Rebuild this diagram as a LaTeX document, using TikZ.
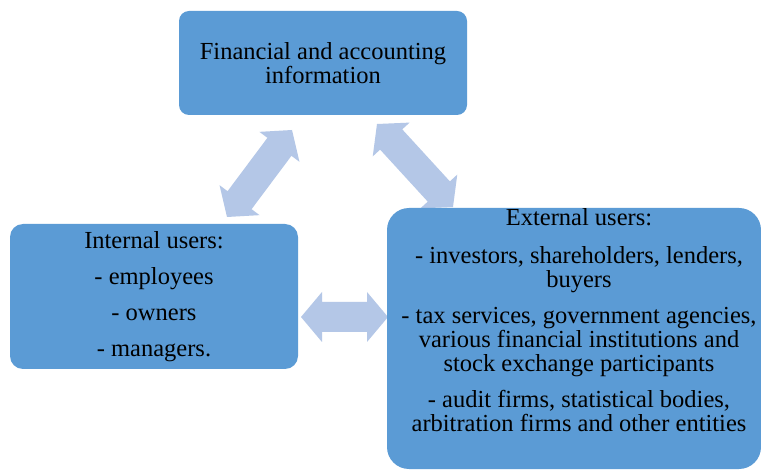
\documentclass[tikz,border=0pt]{standalone}
\usepackage{fontspec}
\setmainfont{LiberationSerif}[Extension=.ttf, UprightFont=*-Regular, BoldFont=*-Bold]
\usetikzlibrary{calc}
\definecolor{boxblue}{HTML}{5B9BD5}
\definecolor{arrowblue}{HTML}{B4C7E7}
\tikzset{
  userbox/.style={fill=boxblue, draw=none, inner sep=0pt},
  boxtext/.style={align=center, inner sep=0pt, text=black, font={\fontsize{24.5}{24}\selectfont}},
  biarrow/.style={fill=arrowblue, draw=none}
}
% double-headed block arrow between two named coordinates
\newcommand{\userarrow}[2]{%
  \path ($(#1)!21pt!(#2)$) coordinate (ua1) ($(#2)!21pt!(#1)$) coordinate (ub1);
  \fill[biarrow] (#1) -- ($(ua1)!25pt!90:(#2)$) -- ($(ua1)!15pt!90:(#2)$)
    -- ($(ub1)!15pt!-90:(#1)$) -- ($(ub1)!25pt!-90:(#1)$) -- (#2)
    -- ($(ub1)!25pt!90:(#1)$) -- ($(ub1)!15pt!90:(#1)$)
    -- ($(ua1)!15pt!-90:(#2)$) -- ($(ua1)!25pt!-90:(#2)$) -- cycle;}
\begin{document}
\begin{tikzpicture}[x=1pt, y=-1pt]
\useasboundingbox (0,0) rectangle (761,470);
\fill[white] (0,0) rectangle (761,470);
% arrow end points
\coordinate (l1) at (227,217);
\coordinate (l2) at (292,130);
\coordinate (r1) at (377,124);
\coordinate (r2) at (453,207);
\coordinate (h1) at (301,317);
\coordinate (h2) at (388,317);
\userarrow{l1}{l2}
\userarrow{r1}{r2}
\userarrow{h1}{h2}
% boxes
\node[userbox, rounded corners=10pt, minimum width=288pt, minimum height=104pt] (fin) at (323,63) {};
\node[boxtext] (fintext) at (fin.center) {Financial and accounting\\information};
\node[userbox, rounded corners=13pt, minimum width=288pt, minimum height=145pt] (int) at (154,296.5) {};
\node[boxtext] (inttext) at (int.center) {Internal users:\\[12pt]- employees\\[12pt]- owners\\[12pt]- managers.};
\node[userbox, rounded corners=22pt, minimum width=374pt, minimum height=261pt] (ext) at (574,338.5) {};
\node[boxtext, anchor=north] (exttext) at (579,208) {External users:\\[14pt]- investors, shareholders, lenders,\\buyers\\[12pt]- tax services, government agencies,\\various financial institutions and\\stock exchange participants\\[12pt]- audit firms, statistical bodies,\\arbitration firms and other entities};
\end{tikzpicture}
\end{document}
